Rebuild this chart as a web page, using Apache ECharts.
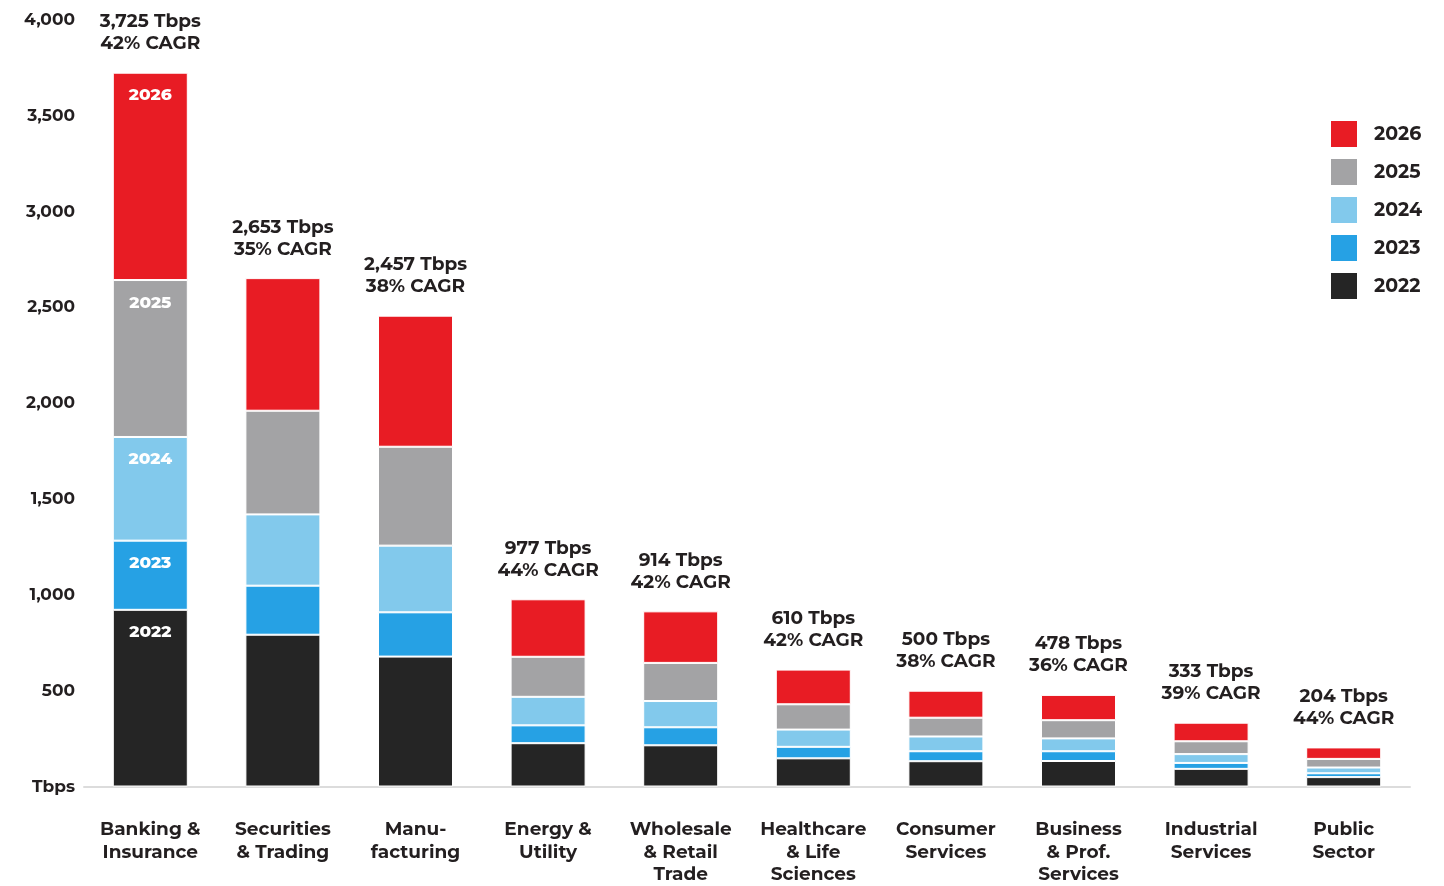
<!DOCTYPE html>
<html>
<head>
<meta charset="utf-8">
<script src="https://cdn.jsdelivr.net/npm/echarts@6/dist/echarts.min.js"></script>
<style>
  html, body { margin: 0; padding: 0; background: #fff; overflow: hidden; }
  #chart { width: 1444px; height: 886px; }
</style>
</head>
<body>
<div id="chart"></div>
<script>
// Industry sectors along the x axis
const categories = [
  'Banking &\nInsurance', 'Securities\n& Trading', 'Manu-\nfacturing', 'Energy &\nUtility',
  'Wholesale\n& Retail\nTrade', 'Healthcare\n& Life\nSciences', 'Consumer\nServices',
  'Business\n& Prof.\nServices', 'Industrial\nServices', 'Public\nSector'
];
const years = ['2022', '2023', '2024', '2025', '2026'];

// Bandwidth added in each year (Tbps); stacked, they reach the 2026 total
const v2022 = [922, 792, 678, 226, 215, 147, 132, 133, 92, 49];
const v2023 = [361, 256, 231, 93, 94, 60, 52, 51, 31, 20];
const v2024 = [541, 372, 348, 149, 137, 90, 77, 67, 46, 30];
const v2025 = [819, 541, 516, 209, 199, 132, 98, 95, 67, 45];
const v2026 = [1082, 692, 684, 300, 269, 181, 141, 132, 97, 60];

// Growth rate per sector, 2022-2026
const cagr = [42, 35, 38, 44, 42, 42, 38, 36, 39, 44];

// Value axis ticks
const yTicks = [0, 500, 1000, 1500, 2000, 2500, 3000, 3500, 4000];
const yZeroLabel = 'Tbps';

const yearValues = [v2022, v2023, v2024, v2025, v2026];
const colors = ['#252525', '#26a1e4', '#82c9ec', '#a3a3a5', '#e81c24'];
const ink = '#231f20';
const font = 'Montserrat, "Noto Sans", sans-serif';

const totals = categories.map((_, i) => yearValues.reduce((s, arr) => s + arr[i], 0));

const series = years.map((yr, k) => ({
  name: yr,
  type: 'bar',
  stack: 'total',
  barWidth: 75,
  itemStyle: { color: colors[k], borderColor: '#ffffff', borderWidth: 1 },
  emphasis: { disabled: true },
  data: yearValues[k].map((v, i) => i === 0 ? {
    value: v,
    label: {
      show: true, position: 'insideTop', distance: 14,
      color: '#ffffff', fontSize: 17, fontWeight: 800, fontFamily: font,
      formatter: yr
    }
  } : v)
}));

// Total and growth rate above each stack
series.push({
  name: 'totals',
  type: 'bar',
  stack: 'total',
  barWidth: 75,
  silent: true,
  itemStyle: { color: 'transparent' },
  data: totals.map(() => 0),
  label: {
    show: true, position: 'top', distance: 18,
    color: ink, fontSize: 18.5, fontWeight: 'bold', fontFamily: font, lineHeight: 22,
    formatter: p => totals[p.dataIndex].toLocaleString('en-US') + ' Tbps\n' + cagr[p.dataIndex] + '% CAGR'
  }
});

const chart = echarts.init(document.getElementById('chart'));
chart.setOption({
  animation: false,
  backgroundColor: '#ffffff',
  grid: { left: 84, right: 34, top: 20, height: 770, containLabel: false },
  legend: {
    orient: 'vertical', left: 1329, top: 119, padding: 0,
    itemWidth: 28, itemHeight: 28, itemGap: 8, icon: 'rect',
    data: ['2026', '2025', '2024', '2023', '2022'],
    textStyle: { color: ink, fontSize: 19, fontWeight: 'bold', fontFamily: font, padding: [0, 0, 0, 11] }
  },
  xAxis: {
    type: 'category', data: categories,
    axisLine: { lineStyle: { color: '#dcdcdc', width: 2 } },
    axisTick: { show: false },
    axisLabel: {
      interval: 0, margin: 32, color: ink, fontSize: 18.5, fontWeight: 'bold',
      fontFamily: font, lineHeight: 22.5, verticalAlign: 'top'
    }
  },
  yAxis: {
    type: 'value', min: yTicks[0], max: yTicks[yTicks.length - 1], interval: yTicks[1] - yTicks[0],
    axisLine: { show: false }, axisTick: { show: false }, splitLine: { show: false },
    axisLabel: {
      margin: 9, color: ink, fontSize: 17, fontWeight: 'bold', fontFamily: font,
      formatter: v => v === 0 ? yZeroLabel : v.toLocaleString('en-US')
    }
  },
  series: series
});
</script>
</body>
</html>
